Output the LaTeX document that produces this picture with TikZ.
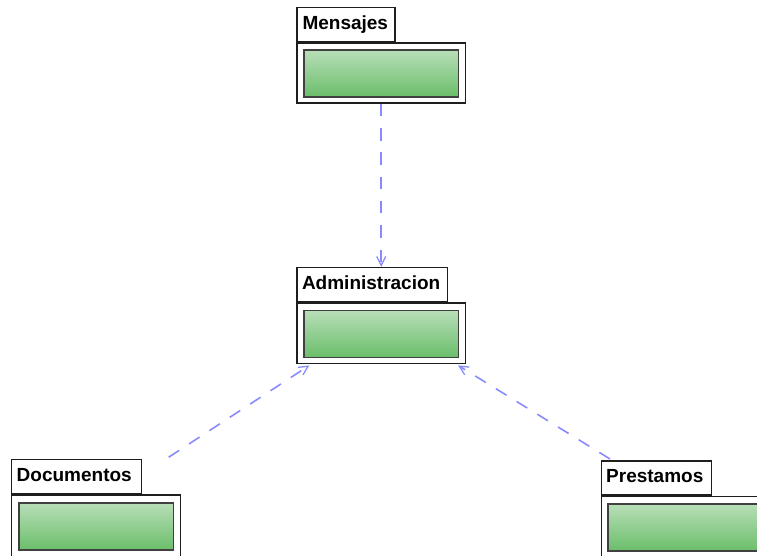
\documentclass[tikz,border=0pt]{standalone}
\usepackage{fontspec}
\setmainfont{Liberation Sans}
\usetikzlibrary{arrows.meta,calc}
\definecolor{deplink}{RGB}{138,138,255}
\definecolor{gtop}{RGB}{184,222,184}
\definecolor{gbot}{RGB}{106,190,106}
\definecolor{pkgline}{RGB}{30,30,30}
\tikzset{
  pkgbody/.style={draw=pkgline, line width=1.4pt, fill=white, rectangle, inner sep=0pt, anchor=north west, minimum width=168.7pt},
  pkgtab/.style={draw=pkgline, line width=1.4pt, fill=white, rectangle, anchor=south west, inner xsep=0pt, inner ysep=0pt, minimum height=34pt, align=left, font=\fontsize{19}{22}\selectfont\bfseries, text height=14pt, text depth=4.5pt},
  pkginner/.style={draw=black!75, line width=1.4pt, top color=gtop, bottom color=gbot, rectangle, inner sep=0pt, anchor=north west, minimum width=154.7pt, minimum height=47pt},
  dep/.style={draw=deplink, line width=1.6pt, dash pattern=on 12.5pt off 11.8pt, -{Straight Barb[length=9pt,width=9pt,line width=1.3pt]}}
}
\begin{document}
\begin{tikzpicture}[x=1pt,y=-1pt]
\useasboundingbox (0,0) rectangle (757,555);
% Mensajes
\node[pkgbody, minimum height=60pt] (men) at (296.3,42.3) {};
\node[pkgtab, minimum width=98pt, text width=98pt] (mentab) at (296.3,42.3) {\hspace*{5.5pt}Mensajes};
\node[pkginner] (meninner) at (303.3,49.3) {};
% Administracion
\node[pkgbody, minimum height=60.7pt] (adm) at (296.3,302.3) {};
\node[pkgtab, minimum width=150.4pt, text width=150.4pt] (admtab) at (296.3,302.3) {\hspace*{5pt}Administracion};
\node[pkginner] (adminner) at (303.3,309.8) {};
% Documentos
\node[pkgbody, minimum width=169pt, minimum height=62pt] (doc) at (11,494.3) {};
\node[pkgtab, minimum width=130pt, text width=130pt] (doctab) at (11,494.3) {\hspace*{5pt}Documentos};
\node[pkginner] (docinner) at (18.3,502.3) {};
% Prestamos
\node[pkgbody, minimum height=62pt] (pre) at (601,495.7) {};
\node[pkgtab, minimum width=109.7pt, text width=109.7pt] (pretab) at (601,495.7) {\hspace*{4.5pt}Prestamos};
\node[pkginner] (preinner) at (607.3,503.3) {};
% dependencies
\draw[dep] ([xshift=-0.15pt]men.south) -- ([xshift=-0.15pt]men.south |- admtab.north);
\draw[dep] ($(doctab.north east)+(26.3,-1.7)$) -- ($(adm.south west)+(13,1)$);
\draw[dep] ($(pretab.north west)+(9,-1.3)$) -- ($(adm.south east)+(-8.3,1)$);
\end{tikzpicture}
\end{document}
